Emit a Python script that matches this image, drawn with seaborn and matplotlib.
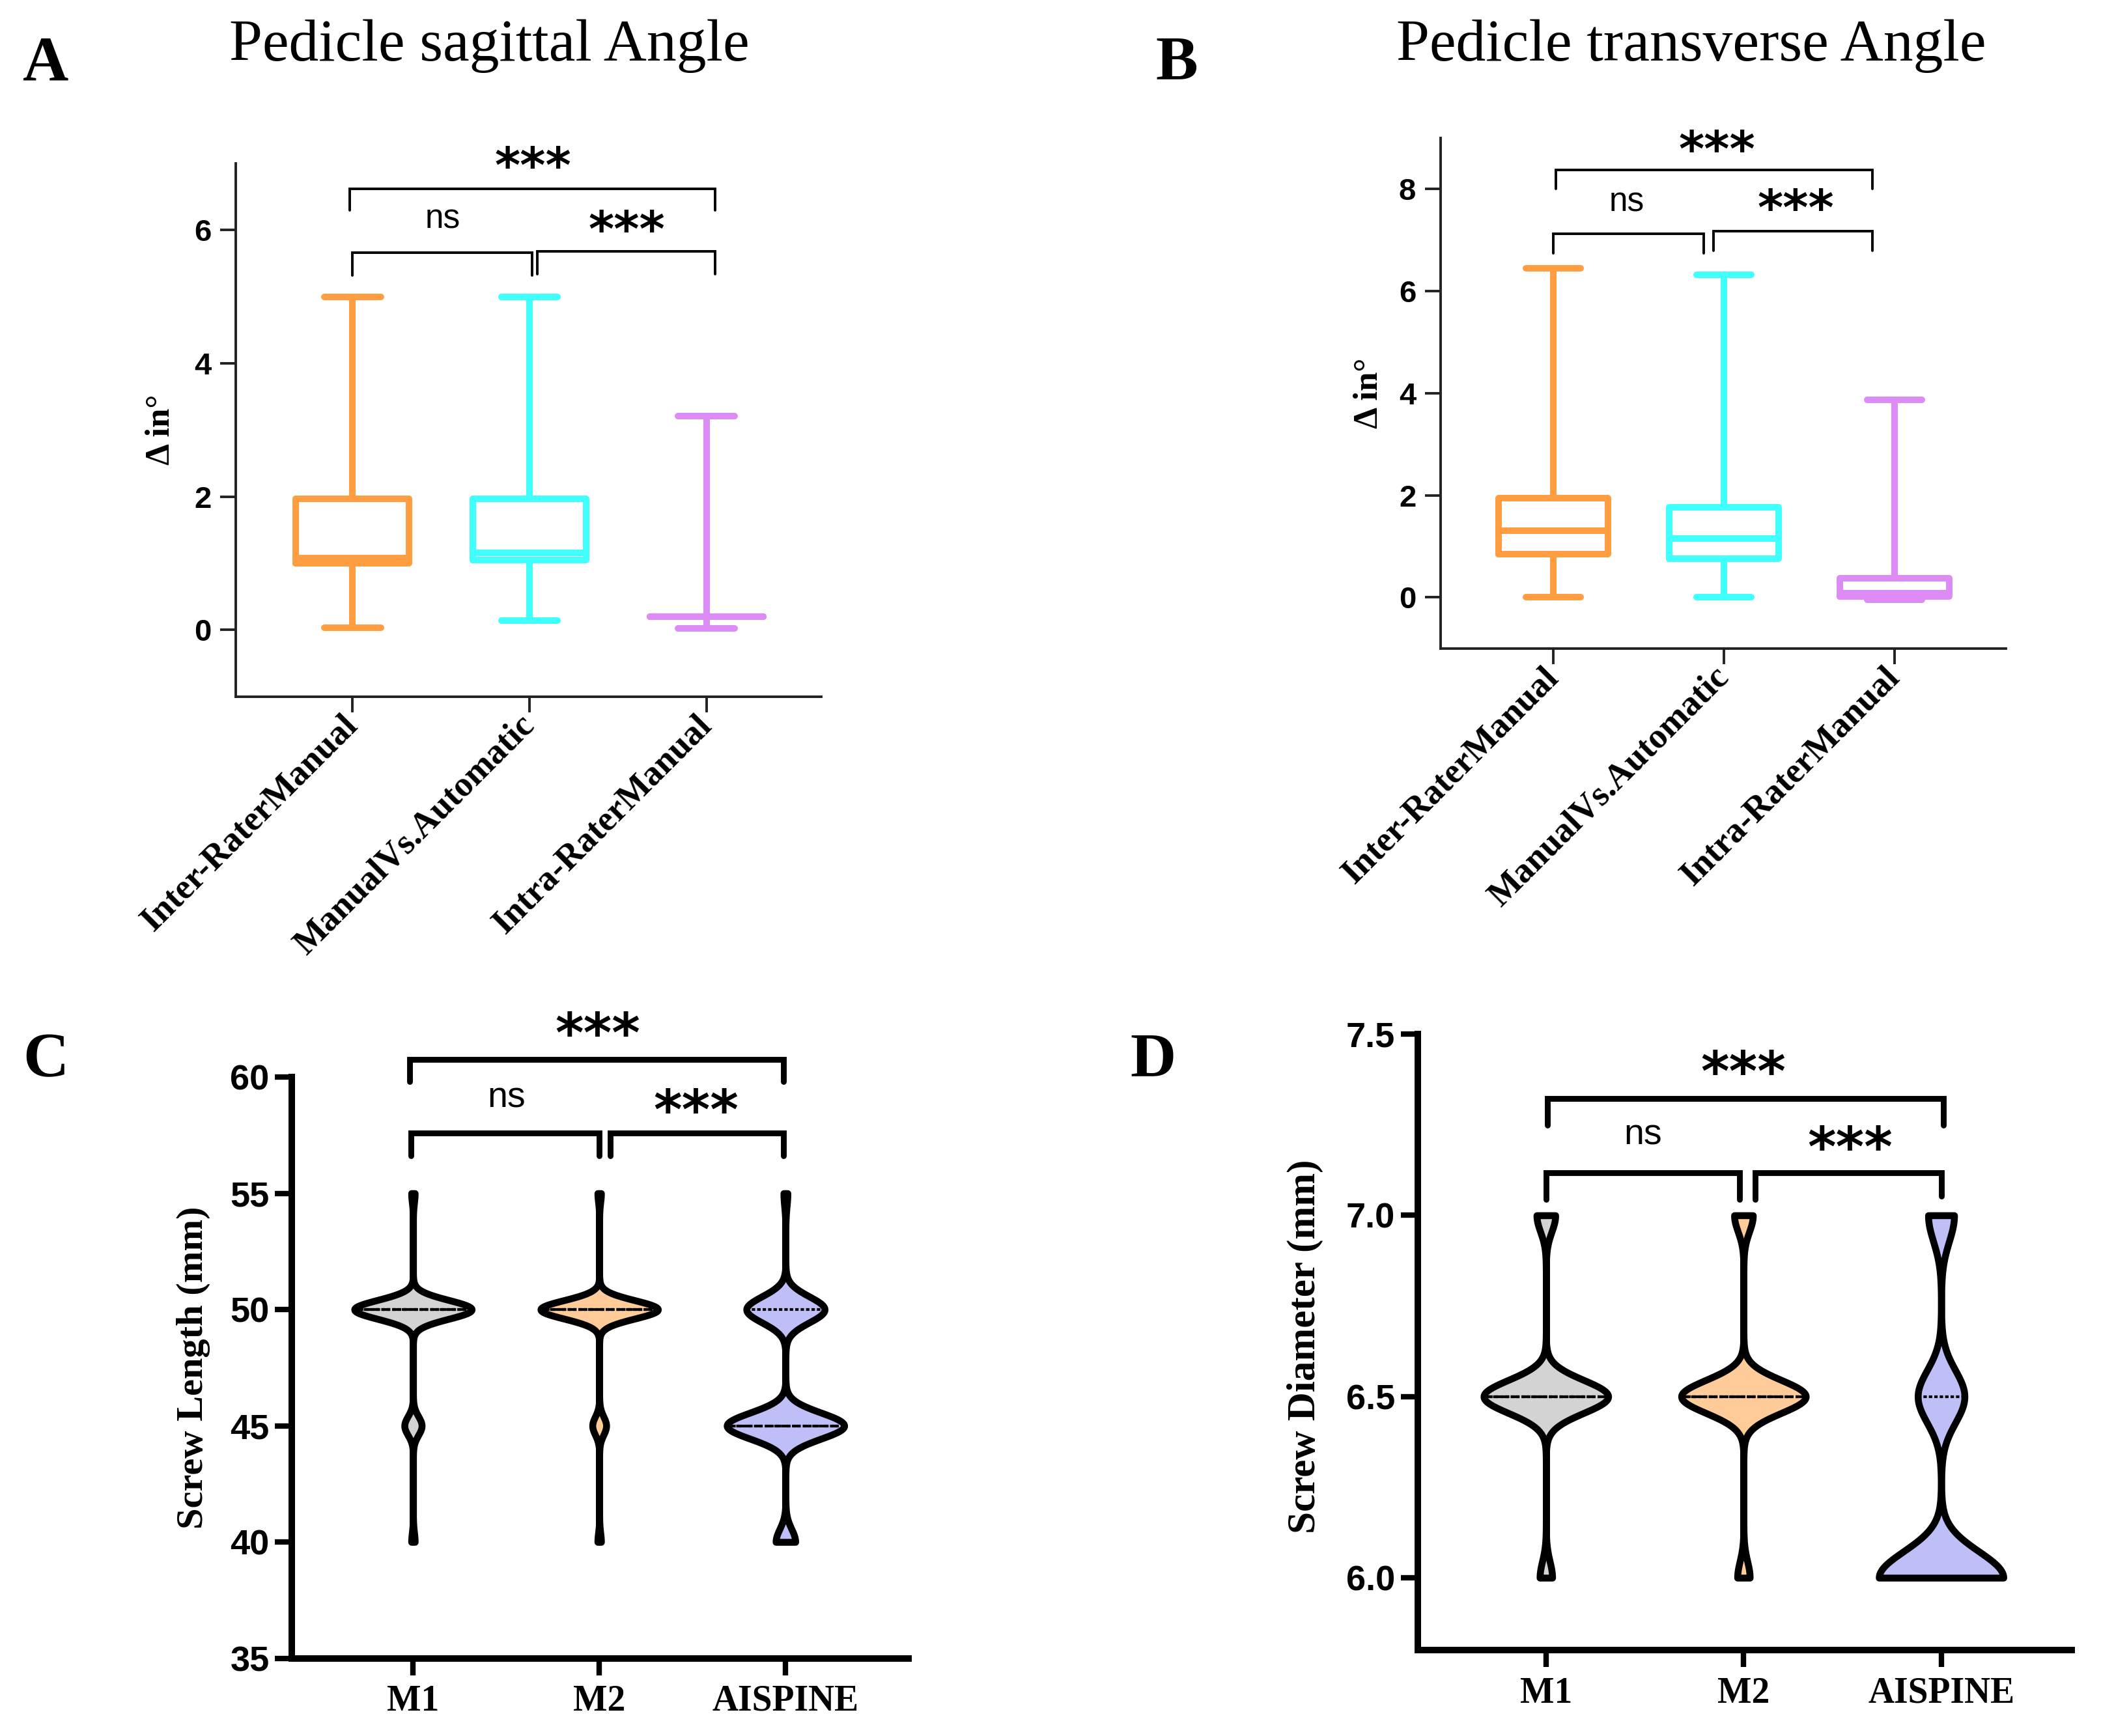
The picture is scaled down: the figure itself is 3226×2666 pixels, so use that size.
import numpy as np
import pandas as pd
import seaborn as sns
import matplotlib.pyplot as plt

# ---- values ----
angle_groups = ["Inter-RaterManual", "ManualVs.Automatic", "Intra-RaterManual"]
# five-number summaries (min, Q1, median, Q3, max), degrees
sagittal_inter = [0.03, 1.0, 1.08, 1.97, 5.0]
sagittal_manual_auto = [0.14, 1.05, 1.16, 1.97, 5.0]
sagittal_intra = [0.02, 0.2, 0.2, 0.2, 3.21]
transverse_inter = [0.0, 0.85, 1.3, 1.95, 6.45]
transverse_manual_auto = [0.0, 0.76, 1.15, 1.77, 6.32]
transverse_intra = [-0.04, 0.02, 0.08, 0.38, 3.87]

screw_groups = ["M1", "M2", "AISPINE"]
# screw sizes come in fixed steps; counts per step
length_levels = [40, 45, 50, 55]
length_counts_m1 = [1, 5, 34, 1]
length_counts_m2 = [1, 4, 34, 1]
length_counts_ai = [5, 30, 20, 1]
diameter_levels = [6.0, 6.5, 7.0]
diameter_counts_m1 = [2, 20, 3]
diameter_counts_m2 = [2, 20, 3]
diameter_counts_ai = [24, 9, 5]

box_colors = ["#FF9E40", "#40FFFF", "#DD8CF5"]
violin_colors = ["#D3D3D3", "#FFCC99", "#BFBFF7"]

SERIF = "Liberation Serif"
SANS = "Liberation Sans"

sns.set_style("ticks")
plt.rcParams["font.family"] = [SANS, "DejaVu Sans"]
plt.rcParams.update({"text.color": "black", "axes.labelcolor": "black",
                     "xtick.color": "black", "ytick.color": "black",
                     "axes.edgecolor": "black"})


def bracket(ax, x1, x2, y, leg1, leg2, lw):
    ax.plot([x1, x1, x2, x2], [leg1, y, y, leg2], color="black", lw=lw,
            clip_on=False, solid_joinstyle="miter")


def stars(ax, x, y, text, size):
    if text == "ns":
        ax.text(x, y, text, ha="center", va="center", fontsize=size,
                fontfamily=SANS, clip_on=False)
    else:
        ax.text(x, y, text, ha="center", va="center", fontsize=size,
                fontfamily="DejaVu Sans", fontweight="bold", clip_on=False)


def box_panel(ax, summaries, ylim, yticks):
    df = pd.DataFrame({
        "group": np.repeat(angle_groups, 5),
        "value": np.concatenate(summaries),
    })
    sns.boxplot(data=df, x="group", y="value", hue="group", palette=box_colors,
                fill=False, whis=(0, 100), width=0.64, linewidth=3.6,
                saturation=1, legend=False, ax=ax)
    ax.set_xlim(-0.66, 2.65)
    ax.set_ylim(*ylim)
    ax.set_yticks(yticks)
    ax.set_xlabel("")
    ax.set_ylabel("Δ in°", fontfamily=SERIF, fontweight="bold", fontsize=19)
    ax.yaxis.label.set_va("center")
    sns.despine(ax=ax)
    for sp in ["left", "bottom"]:
        ax.spines[sp].set_linewidth(1.4)
        ax.spines[sp].set_color("#222222")
    ax.tick_params(length=8.5, width=1.4, color="#222222", labelsize=17, pad=5)
    for lab in ax.get_yticklabels():
        lab.set_fontweight("bold")
    ax.set_xticks(range(3))
    ax.set_xticklabels(angle_groups, rotation=45, ha="right", va="center",
                       rotation_mode="anchor", fontfamily=SERIF,
                       fontweight="bold", fontsize=19.5)


def violin_panel(ax, levels, counts, bw, ylim, yticks, ylabel, label_size):
    df = pd.DataFrame({
        "group": np.concatenate([[g] * sum(c) for g, c in zip(screw_groups, counts)]),
        "value": np.concatenate([np.repeat(levels, c) for c in counts]),
    })
    sns.violinplot(data=df, x="group", y="value", hue="group",
                   palette=violin_colors, inner="quart", cut=0, bw_method=bw,
                   gridsize=600, density_norm="width", width=0.63,
                   linewidth=3.8, linecolor="black", saturation=1,
                   inner_kws=dict(linewidth=1.5), legend=False, ax=ax)
    for coll in ax.collections:
        coll.set_joinstyle("round")
        coll.set_capstyle("round")
    ax.set_xlim(-0.65, 2.66)
    ax.set_ylim(*ylim)
    ax.set_yticks(yticks)
    ax.set_xlabel("")
    ax.set_ylabel(ylabel, fontfamily=SERIF, fontweight="bold", fontsize=label_size)
    ax.yaxis.label.set_va("center")
    sns.despine(ax=ax)
    for sp in ["left", "bottom"]:
        ax.spines[sp].set_linewidth(3.6)
        ax.spines[sp].set_color("black")
    ax.tick_params(axis="y", length=9.5, width=3, labelsize=19.5, pad=3)
    ax.tick_params(axis="x", length=9.5, width=3, pad=5)
    for lab in ax.get_yticklabels():
        lab.set_fontweight("bold")
    ax.set_xticks(range(3))
    ax.set_xticklabels(screw_groups, fontfamily=SERIF, fontweight="bold", fontsize=20)


fig = plt.figure(figsize=(16.13, 13.33), dpi=200)

# A
ax_a = fig.add_axes([0.1122, 0.5988, 0.2788, 0.3071])
box_panel(ax_a, [sagittal_inter, sagittal_manual_auto, sagittal_intra],
          (-1, 7), [0, 2, 4, 6])
ax_a.yaxis.set_label_coords(-0.128, 0.5)
bracket(ax_a, -0.015, 2.05, 6.62, 6.3, 6.3, 1.4)
bracket(ax_a, 0.0, 1.015, 5.66, 5.32, 5.32, 1.4)
bracket(ax_a, 1.045, 2.05, 5.68, 5.34, 5.34, 1.4)
stars(ax_a, 1.02, 6.92, "***", 27)
stars(ax_a, 0.51, 6.16, "ns", 18.5)
stars(ax_a, 1.55, 5.96, "***", 27)

# B
ax_b = fig.add_axes([0.6856, 0.6265, 0.2691, 0.2940])
box_panel(ax_b, [transverse_inter, transverse_manual_auto, transverse_intra],
          (-1, 9), [0, 2, 4, 6, 8])
ax_b.yaxis.set_label_coords(-0.126, 0.5)
bracket(ax_b, 0.016, 1.87, 8.37, 8.0, 8.0, 1.4)
bracket(ax_b, 0.0, 0.88, 7.13, 6.74, 6.74, 1.4)
bracket(ax_b, 0.94, 1.87, 7.18, 6.79, 6.79, 1.4)
stars(ax_b, 0.96, 8.71, "***", 27)
stars(ax_b, 0.43, 7.74, "ns", 18.5)
stars(ax_b, 1.42, 7.56, "***", 27)

# C
ax_c = fig.add_axes([0.1390, 0.0448, 0.2934, 0.3348])
violin_panel(ax_c, length_levels,
             [length_counts_m1, length_counts_m2, length_counts_ai],
             0.17, (35, 60), [35, 40, 45, 50, 55, 60], "Screw Length (mm)", 21)
ax_c.yaxis.set_label_coords(-0.16, 0.5)
bracket(ax_c, -0.02, 1.99, 60.76, 59.79, 59.79, 3.2)
bracket(ax_c, -0.01, 1.0, 57.58, 56.6, 56.6, 3.2)
bracket(ax_c, 1.06, 1.99, 57.58, 56.6, 56.6, 3.2)
stars(ax_c, 0.99, 61.75, "***", 30)
stars(ax_c, 0.5, 59.1, "ns", 20)
stars(ax_c, 1.52, 58.45, "***", 30)

# D
ax_d = fig.add_axes([0.6747, 0.0494, 0.3113, 0.3549])
violin_panel(ax_d, diameter_levels,
             [diameter_counts_m1, diameter_counts_m2, diameter_counts_ai],
             0.2, (5.8, 7.5), [6.0, 6.5, 7.0, 7.5], "Screw Diameter (mm)", 22)
ax_d.set_yticklabels([f"{v:.1f}" for v in [6.0, 6.5, 7.0, 7.5]], fontweight="bold")
ax_d.yaxis.set_label_coords(-0.172, 0.493)
bracket(ax_d, 0.007, 2.01, 7.322, 7.248, 7.248, 3.2)
bracket(ax_d, 0.0, 0.98, 7.118, 7.044, 7.044, 3.2)
bracket(ax_d, 1.06, 2.0, 7.118, 7.044, 7.052, 3.2)
stars(ax_d, 1.0, 7.388, "***", 30)
stars(ax_d, 0.49, 7.22, "ns", 20)
stars(ax_d, 1.54, 7.18, "***", 30)

# panel letters and titles
for letter, x, y in [("A", 0.011, 0.954), ("B", 0.550, 0.954),
                     ("C", 0.011, 0.380), ("D", 0.538, 0.380)]:
    fig.text(x, y, letter, fontfamily=SERIF, fontweight="bold", fontsize=35,
             ha="left", va="baseline")
fig.text(0.233, 0.965, "Pedicle sagittal Angle", fontfamily=SERIF, fontsize=33,
         ha="center", va="baseline")
fig.text(0.805, 0.965, "Pedicle transverse Angle", fontfamily=SERIF, fontsize=33,
         ha="center", va="baseline")

fig.savefig("out.png", dpi=200, facecolor="white")
